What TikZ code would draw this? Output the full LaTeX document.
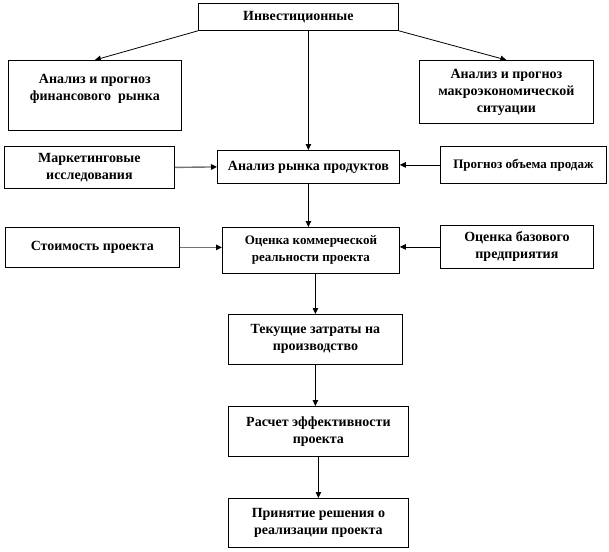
\documentclass[tikz,border=0pt]{standalone}
\usepackage{fontspec}
\setmainfont{Liberation Serif}
\usetikzlibrary{arrows.meta}

\begin{document}
\begin{tikzpicture}[
        x=1pt, y=-1pt,
        blok/.style={
            draw,
            line width=0.8pt,
            anchor=north west,
            align=center,
            inner sep=2pt,
            font=\bfseries\fontsize{14}{17}\selectfont
        },
        strelka/.style={
            -{Triangle[length=6pt, width=5.5pt]},
            line width=0.8pt
        },
        seraja/.style={
            -{Triangle[length=6pt, width=5.5pt, color=black]},
            draw=black!55,
            line width=1.4pt
        }
    ]
        \useasboundingbox (0, 0) rectangle (609, 551);

        \node[blok, minimum width=200pt, minimum height=27pt] (inv) at (198, 3) {Инвестиционные};

        \node[blok, minimum width=173pt, minimum height=70pt] (fin) at (8, 60) {Анализ и прогноз\\финансового \ рынка\\\mbox{}};
        \node[blok, minimum width=174pt, minimum height=63pt] (makro) at (419, 60) {Анализ и прогноз\\макроэкономической\\ситуации};

        \node[blok, minimum width=170pt, minimum height=42pt] (market) at (4, 146) {Маркетинговые\\исследования};
        \node[blok, minimum width=182pt, minimum height=33pt] (rynok) at (217, 150) {Анализ рынка продуктов};
        \node[blok, minimum width=166pt, minimum height=37pt, font=\bfseries\fontsize{13}{16}\selectfont] (prodazhi) at (440, 146) {Прогноз объема продаж};

        \node[blok, minimum width=174pt, minimum height=40pt] (stoim) at (5, 227) {Стоимость проекта};
        \node[blok, minimum width=177pt, minimum height=46pt, font=\bfseries\fontsize{13}{17}\selectfont] (komm) at (222, 227) {Оценка коммерческой\\реальности проекта};
        \node[blok, minimum width=153pt, minimum height=43pt] (baza) at (440, 225) {Оценка базового\\предприятия};

        \node[blok, minimum width=174pt, minimum height=50pt] (zatraty) at (228, 314) {Текущие затраты на\\производство};
        \node[blok, minimum width=180pt, minimum height=50pt] (effekt) at (228, 406) {Расчет эффективности\\проекта};
        \node[blok, minimum width=180pt, minimum height=49pt] (reshenie) at (228, 498) {Принятие решения о\\реализации проекта};

        \draw[strelka] (inv.south west) -- (fin.north);
        \draw[strelka] (inv.south east) -- (makro.north);
        \draw[strelka] (inv.south -| rynok.north) -- (rynok.north);

        \draw[seraja] (market.east) -- (rynok.west);
        \draw[strelka] (prodazhi.west) -- (prodazhi.west -| rynok.east);

        \draw[strelka] (rynok.south) -- (rynok.south |- komm.north);
        \draw[seraja] (stoim.east) -- (stoim.east -| komm.west);
        \draw[strelka] (baza.west) -- (baza.west -| komm.east);

        \draw[strelka] (zatraty.north |- komm.south) -- (zatraty.north);
        \draw[strelka] (zatraty.south) -- (zatraty.south |- effekt.north);
        \draw[strelka] (effekt.south) -- (effekt.south |- reshenie.north);
    \end{tikzpicture}
\end{document}
